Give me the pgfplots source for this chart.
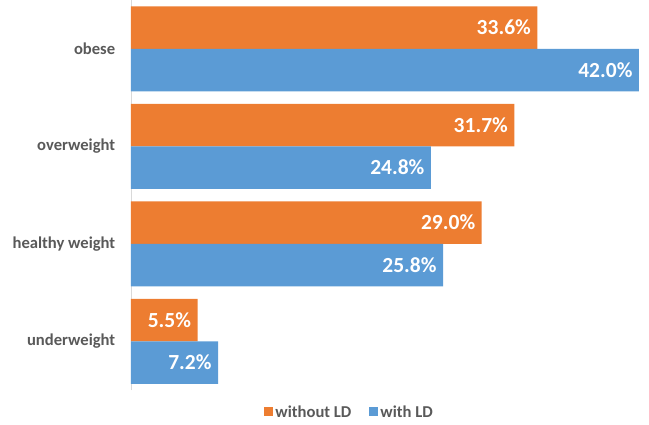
\documentclass[border=0pt]{standalone}
\usepackage{pgfplots}
\pgfplotsset{compat=1.18}
\usepackage{fontspec}
\setmainfont{Carlito}
\definecolor{cOrange}{HTML}{ED7D31}
\definecolor{cBlue}{HTML}{5B9BD5}
\definecolor{cText}{HTML}{595959}
\definecolor{cAxis}{HTML}{D9D9D9}
\begin{document}
\begin{tikzpicture}
\begin{axis}[
  scale only axis,
  width=518pt, height=390pt,
  xbar, bar width=42.5pt,
  xmin=0, xmax=42.83,
  ymin=-0.5, ymax=3.5,
  axis x line=none,
  axis y line*=left,
  y axis line style={draw=cAxis, line width=0.8pt},
  ytick={0,1,2,3},
  yticklabels={underweight, healthy weight, overweight, obese},
  ytick style={draw=none},
  yticklabel style={font=\fontsize{16.6}{19}\selectfont\bfseries, text=cText, xshift=-8pt},
  /pgf/number format/assume math mode=true,
  nodes near coords={\pgfmathprintnumber[fixed, fixed zerofill, precision=1]{\pgfplotspointmeta}\%},
  nodes near coords style={font=\fontsize{21.5}{24}\selectfont\bfseries, text=white, anchor=east, xshift=-3pt},
  legend style={at={(axis description cs:0.422,-0.0564)}, anchor=center, draw=none, fill=none,
    legend columns=2, font=\fontsize{16.6}{19}\selectfont\bfseries, text=cText,
    /tikz/every even column/.append style={column sep=16pt}},
  legend image code/.code={\fill[#1] (-1pt,-4.5pt) rectangle (8pt,4.5pt);},
]
\addplot[fill=cOrange, draw=none, bar shift=21.25pt] coordinates {(5.5,0) (29.0,1) (31.7,2) (33.6,3)};
\addlegendentry{without LD}
\addplot[fill=cBlue, draw=none, bar shift=-21.25pt] coordinates {(7.2,0) (25.8,1) (24.8,2) (42.0,3)};
\addlegendentry{with LD}
\end{axis}
\pgfresetboundingbox
\path (-131pt,-34pt) rectangle (518pt,390pt);
\end{tikzpicture}
\end{document}
